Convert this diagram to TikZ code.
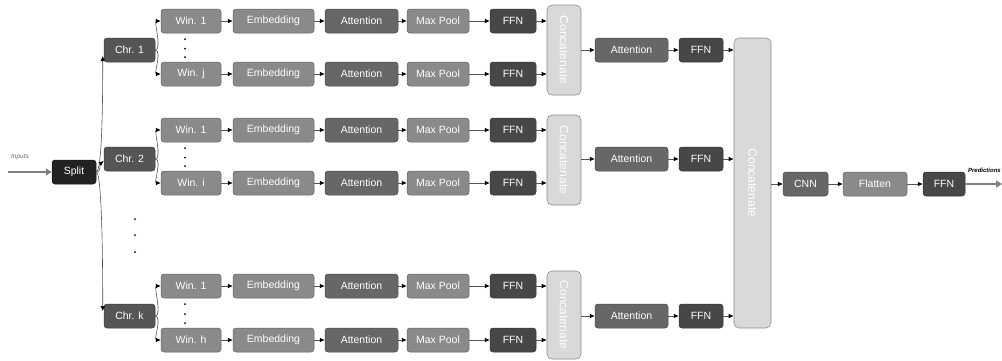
\documentclass[tikz,border=0pt]{standalone}
\usepackage{fontspec}
\setmainfont{Liberation Sans}
\usetikzlibrary{arrows.meta,calc}
\definecolor{cSplit}{HTML}{222222}
\definecolor{cChr}{HTML}{555555}
\definecolor{cWin}{HTML}{8A8A8A}
\definecolor{cAtt}{HTML}{676767}
\definecolor{cFFN}{HTML}{474747}
\definecolor{cCat}{HTML}{D9D9D9}
\definecolor{cLine}{HTML}{555555}
\tikzset{
  box/.style={rounded corners=3pt, draw=#1!70!black, fill=#1, text=white, font=\fontsize{10.5}{12}\selectfont, minimum height=24pt, inner sep=0pt, line width=0.5pt},
  cat/.style={rounded corners=5pt, draw=black!45, fill=cCat, text=white, font=\fontsize{10.5}{12}\selectfont, inner sep=0pt, line width=0.6pt},
  cattext/.style={rotate=-90, text=white, font=\fontsize{12}{14}\selectfont},
  arr/.style={draw=cLine, line width=0.6pt, -{Latex[length=5pt,width=4.5pt,color=black]}},
  fat/.style={draw=black!50, line width=2.2pt, -{Triangle[length=6pt,width=7pt]}},
  dot/.style={circle, fill=black, inner sep=0pt, minimum size=2pt}
}
\begin{document}
\begin{tikzpicture}[x=1pt,y=-1pt]
\useasboundingbox (0,0) rectangle (1002,360);
% inputs
\coordinate (inS) at (8,172);
\node[box=cSplit, minimum width=44pt] (split) at (74,172) {Split};
\draw[fat] (inS) -- (split.west);
\node[font=\fontsize{6.5}{7}\selectfont\itshape, text=black!60] (inlab) at (20,157) {Inputs};
% blocks
\foreach \b/\ya/\yb/\yc/\ch/\wl/\ccy/\cch in {1/21/74/50/1/j/50/90, 2/130/183/159/2/i/160/90, 3/286/340/316/k/h/315/88}{
  \node[box=cChr, minimum width=51pt] (chr\b) at (129.5,\yc) {Chr. \ch};
  \foreach \r/\yy/\wn in {a/\ya/1, b/\yb/\wl}{
    \node[box=cWin, minimum width=60pt] (win\b\r) at (191,\yy) {Win. \wn};
    \node[box=cWin, minimum width=81pt] (emb\b\r) at (273.5,\yy) {Embedding};
    \node[box=cAtt, minimum width=73pt] (att\b\r) at (361.5,\yy) {Attention};
    \node[box=cWin, minimum width=62pt] (mp\b\r) at (438,\yy) {Max Pool};
    \node[box=cFFN, minimum width=46pt] (ffn\b\r) at (513,\yy) {FFN};
    \draw[arr] (win\b\r) -- (emb\b\r);
    \draw[arr] (emb\b\r) -- (att\b\r);
    \draw[arr] (att\b\r) -- (mp\b\r);
    \draw[arr] (mp\b\r) -- (ffn\b\r);
  }
  \node[cat, minimum width=34pt, minimum height=\cch pt] (cat\b) at (564,\ccy) {};
  \node[cattext] (catl\b) at (cat\b.center) {Concatenate};
  \draw[arr] (ffn\b a.east) -- (ffn\b a.east -| cat\b.west);
  \draw[arr] (ffn\b b.east) -- (ffn\b b.east -| cat\b.west);
  \node[box=cAtt, minimum width=73pt] (batt\b) at (631.5,\yc) {Attention};
  \node[box=cFFN, minimum width=44pt] (bffn\b) at (701,\yc) {FFN};
  \draw[arr] (batt\b.west -| cat\b.east) -- (batt\b.west);
  \draw[arr] (batt\b) -- (bffn\b);
  \draw[arr] (chr\b.east) .. controls +(7,0) and +(-7,0) .. (win\b a.west);
  \draw[arr] (chr\b.east) .. controls +(7,0) and +(-7,0) .. (win\b b.west);
  \node[dot] (d\b a) at (185,\ya+18) {};
  \node[dot] (d\b b) at (185,{(\ya+\yb)/2+1}) {};
  \node[dot] (d\b c) at (185,\yb-17) {};
}
% split to chromosomes
\draw[arr] (split.east) .. controls +(6,0) and +(0,40) .. ([shift={(-1,6)}]chr1.west);
\draw[arr] (split.east) .. controls +(5,0) and +(-4,3) .. ([shift={(0,2)}]chr2.west);
\draw[arr] (split.east) .. controls +(6,0) and +(0,-40) .. ([shift={(-1,-5)}]chr3.west);
\node[dot] (v1) at (135,219) {};
\node[dot] (v2) at (135,235) {};
\node[dot] (v3) at (135,252) {};
% big concat
\node[cat, minimum width=37pt, minimum height=290pt] (bigcat) at (752.5,183) {};
\node[cattext] (bigcatl) at (bigcat.center) {Concatenate};
\foreach \b in {1,2,3}{
  \draw[arr] (bffn\b.east) -- (bffn\b.east -| bigcat.west);
}
\node[box=cAtt, minimum width=45pt] (cnn) at (805.5,184) {CNN};
\node[box=cWin, minimum width=64pt] (flat) at (875,184) {Flatten};
\node[box=cFFN, minimum width=42pt] (fffn) at (944,184) {FFN};
\draw[arr] (cnn.west -| bigcat.east) -- (cnn.west);
\draw[arr] (cnn) -- (flat);
\draw[arr] (flat) -- (fffn);
\coordinate (outE) at (1002,184);
\draw[fat] (fffn.east) -- (outE);
\node[font=\fontsize{6}{7}\selectfont\itshape\bfseries, text=black, anchor=east, inner sep=0.5pt] (plab) at (1001.5,170) {Predictions};
\end{tikzpicture}
\end{document}
